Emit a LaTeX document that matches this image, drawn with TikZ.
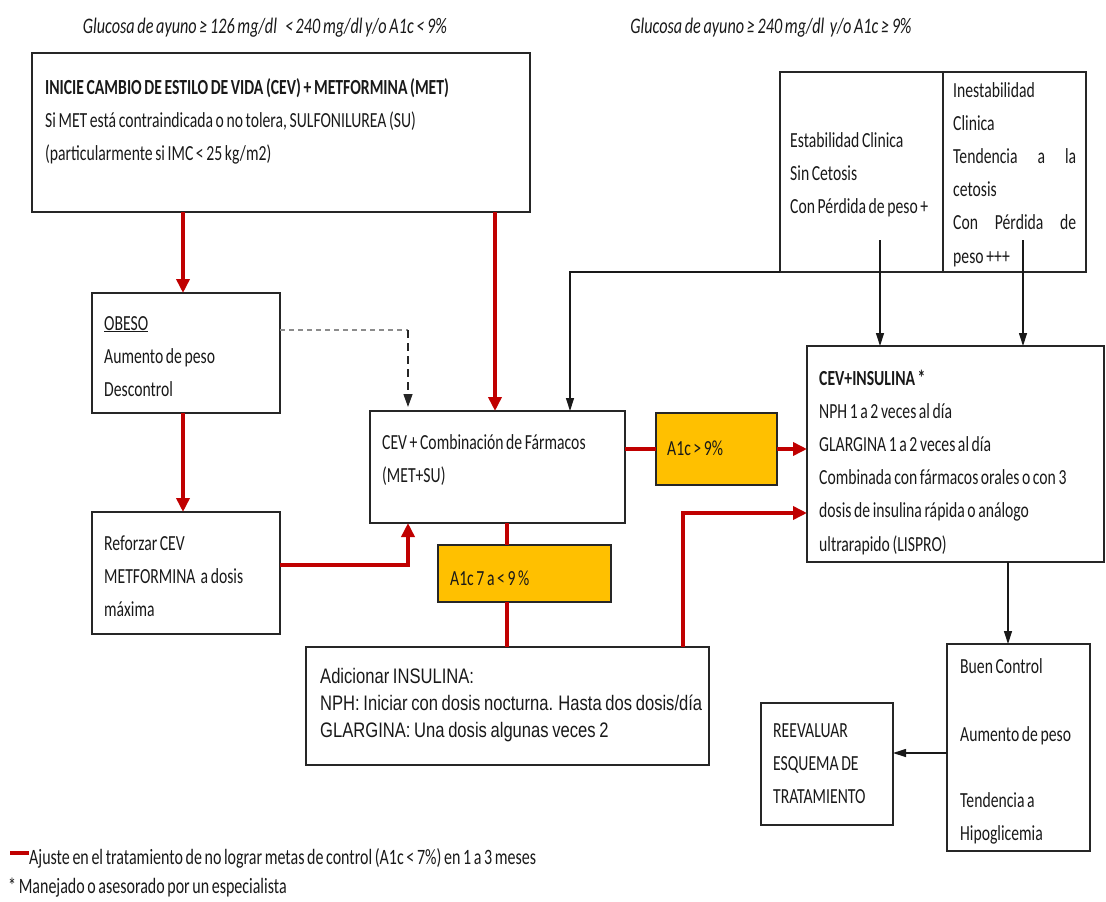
\documentclass[tikz,border=0pt]{standalone}
\usepackage{fontspec}
\setmainfont{Carlito}[FakeStretch=0.73,WordSpace=0.73]
\newfontfamily\arialn{Liberation Sans}[FakeStretch=0.79,WordSpace=0.79]
\usetikzlibrary{arrows.meta,calc}
\definecolor{dred}{HTML}{C00000}
\definecolor{amber}{HTML}{FFC000}
\tikzset{
  box/.style={draw=black!85, line width=1.3pt, anchor=north west, inner sep=0pt, outer sep=0pt},
  obox/.style={box, fill=amber},
  txt/.style={anchor=base west, inner sep=0pt, text width=#1, align=left, font=\fontsize{21.5}{33.2}\selectfont, text=black!90,
    execute at begin node={\spaceskip=0pt\xspaceskip=0pt}},
  txt/.default=300pt,
  hd/.style={anchor=base, inner sep=0pt, font=\fontsize{22.2}{24}\selectfont\itshape, text=black!90},
  redln/.style={draw=dred, line width=4pt},
  redar/.style={redln, -{Triangle[width=13pt,length=14pt]}},
  blkar/.style={draw=black!90, line width=1.2pt, -{Triangle[width=8pt,length=13pt]}},
  dashar/.style={draw=black!85, line width=1.3pt, dash pattern=on 8pt off 5pt, -{Triangle[width=9pt,length=13pt]}},
  dashln/.style={draw=black!45, line width=1.6pt, dash pattern=on 5pt off 4pt},
}
\begin{document}
\begin{tikzpicture}[x=1pt,y=-1pt]
\useasboundingbox (0,0) rectangle (1106,902);

% headings
\node[hd] (h1) at (265,33) {Glucosa de ayuno ≥ 126 mg/dl \ \ < 240 mg/dl y/o A1c < 9\%};
\node[hd] (h2) at (771,33) {Glucosa de ayuno ≥ 240 mg/dl \ y/o A1c ≥ 9\%};

% boxes
\node[box, minimum width=498pt, minimum height=159pt] (b1) at (32,53) {};
\node[box, minimum width=163pt, minimum height=200pt] (stabL) at (780,72) {};
\node[box, minimum width=143pt, minimum height=200pt] (stabR) at (943,72) {};
\node[box, minimum width=188pt, minimum height=120pt] (obeso) at (92,293) {};
\node[box, minimum width=188pt, minimum height=122pt] (refor) at (92,512) {};
\node[box, minimum width=255pt, minimum height=112pt] (comb) at (370,411) {};
\node[obox, minimum width=121pt, minimum height=72pt] (a9) at (656,413) {};
\node[obox, minimum width=173pt, minimum height=57pt] (a7) at (438,545) {};
\node[box, minimum width=403pt, minimum height=118pt] (adic) at (306,647) {};
\node[box, minimum width=297pt, minimum height=216pt] (ins) at (807,346) {};
\node[box, minimum width=143pt, minimum height=207pt] (buen) at (947,644) {};
\node[box, minimum width=132pt, minimum height=122pt] (reev) at (761,703) {};

% texts
\node[txt=480pt] (t1) at (45,94) {\textbf{INICIE CAMBIO DE ESTILO DE VIDA (CEV) + METFORMINA (MET)}\\
Si MET está contraindicada o no tolera, SULFONILUREA (SU)\\
(particularmente si IMC < 25 kg/m2)};
\node[txt=160pt] (t2) at (790,147) {Estabilidad Clinica\\ Sin Cetosis\\ Con Pérdida de peso +};
\node[txt=125pt] (t3) at (953,97) {Inestabilidad\\ Clinica\\ \makebox[123pt][s]{Tendencia a la}\\ cetosis\\ \makebox[123pt][s]{Con Pérdida de}\\ peso +++};
\node[txt=170pt] (t4) at (104,330) {\underline{OBESO}\\ Aumento de peso\\ Descontrol};
\node[txt=170pt] (t5) at (104,550) {Reforzar CEV\\ METFORMINA \ a dosis\\ máxima};
\node[txt=240pt] (t6) at (382,449) {CEV + Combinación de Fármacos\\ (MET+SU)};
\node[txt=100pt] (t7) at (667,455) {A1c > 9\%};
\node[txt=150pt] (t8) at (450,585) {A1c 7 a < 9 \%};
\node[txt=420pt, font=\arialn\fontsize{21}{27}\selectfont] (t9) at (320,683) {Adicionar INSULINA:\\ NPH: Iniciar con dosis nocturna. Hasta dos dosis/día\\ GLARGINA: Una dosis algunas veces 2};
\node[txt=295pt] (t10) at (819,385) {\textbf{CEV+INSULINA *}\\ NPH 1 a 2 veces al día\\ GLARGINA 1 a 2 veces al día\\ Combinada con fármacos orales o con 3\\ dosis de insulina rápida o análogo\\ ultrarapido (LISPRO)};
\node[txt=135pt] (t11) at (960,673) {Buen Control};
\node[txt=135pt] (t12) at (960,741) {Aumento de peso};
\node[txt=135pt] (t13) at (960,807) {Tendencia a\\ Hipoglicemia};
\node[txt=125pt] (t14) at (773,737) {REEVALUAR\\ ESQUEMA DE\\ TRATAMIENTO};

% legend
\draw[redln] (10,853) -- (29,853);
\node[txt=600pt, font=\fontsize{21.9}{24}\selectfont] (l1) at (29,864) {Ajuste en el tratamiento de no lograr metas de control (A1c < 7\%) en 1 a 3 meses};
\node[txt=600pt, font=\fontsize{21.9}{24}\selectfont] (l2) at (8,893) {* Manejado o asesorado por un especialista};

% helper x positions
\coordinate (x183) at (183,0);
\coordinate (x495) at (495,0);
\coordinate (x408) at (408,0);
\coordinate (x507) at (507,0);
\coordinate (x683) at (683,0);
\coordinate (x570) at (570,0);
\coordinate (x880) at (880,0);
\coordinate (x1023) at (1023,0);
\coordinate (x1008) at (1008,0);
\coordinate (y330) at (0,330);
\coordinate (y565) at (0,565);
\coordinate (y513) at (0,513);
\coordinate (y240) at (0,240);
\coordinate (y753) at (0,753);

% red connectors
\draw[redar] (b1.south -| x183) -- (obeso.north -| x183);
\draw[redar] (b1.south -| x495) -- (comb.north -| x495);
\draw[redar] (obeso.south -| x183) -- (refor.north -| x183);
\draw[redar] (refor.east |- y565) -| (comb.south -| x408);
\draw[redln] (comb.east |- a9.west) -- (a9.west);
\draw[redar] (a9.east) -- (ins.west |- a9.east);
\draw[redln] (comb.south -| x507) -- (a7.north -| x507);
\draw[redln] (a7.south -| x507) -- (adic.north -| x507);
\draw[redar] (adic.north -| x683) |- (ins.west |- y513);

% dashed
\draw[dashln] (obeso.east |- y330) -- (x408 |- y330);
\draw[dashar] (x408 |- y330) -- ($(comb.north -| x408)+(0,-4)$);

% black connectors
\draw[blkar] (stabL.south west) -| (comb.north -| x570);
\draw[blkar] (x880 |- y240) -- (ins.north -| x880);
\draw[blkar] (x1023 |- y240) -- (ins.north -| x1023);
\draw[blkar] (ins.south -| x1008) -- (buen.north -| x1008);
\draw[blkar] (buen.west |- y753) -- (reev.east |- y753);
\end{tikzpicture}
\end{document}
